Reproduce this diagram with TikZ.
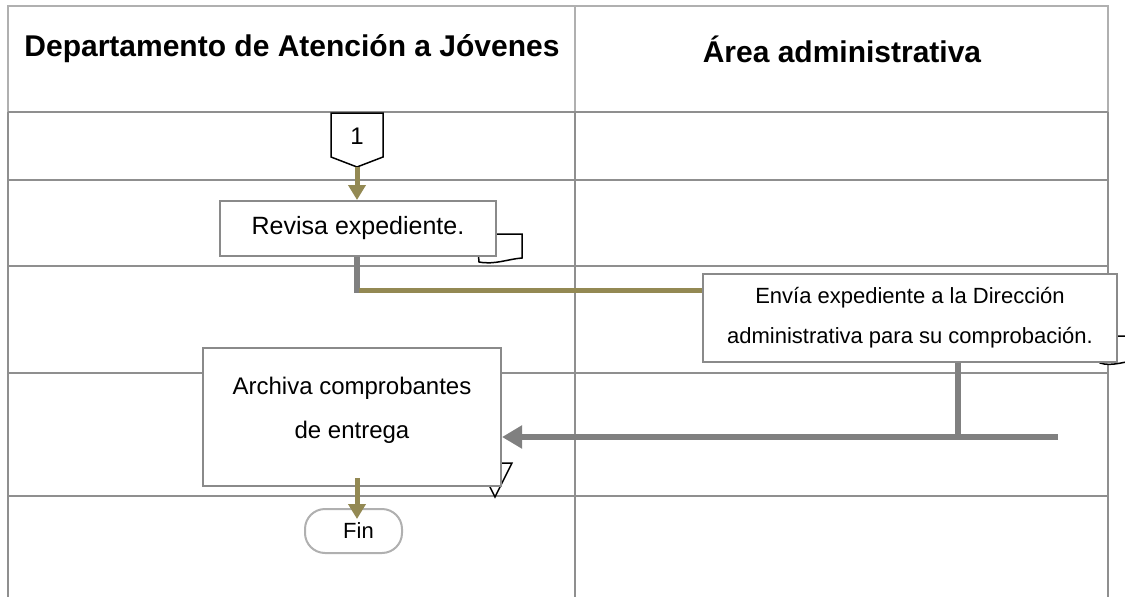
\documentclass[tikz,border=0pt]{standalone}
\usepackage{fontspec}
\setmainfont{Liberation Sans}
\usetikzlibrary{arrows.meta}
\definecolor{olivec}{HTML}{938953}
\definecolor{grayc}{HTML}{808080}
\definecolor{hdrline}{HTML}{B0B0B0}
\definecolor{rowline}{HTML}{8F8F8F}
\definecolor{boxline}{HTML}{8A8A8A}
\tikzset{
  hdrtext/.style={font=\fontsize{30}{34}\selectfont\bfseries, text=black},
  procbox/.style={draw=boxline, line width=2pt, fill=white, rectangle, inner sep=0pt, align=center},
  oliveconn/.style={draw=olivec, line width=5pt},
  grayconn/.style={draw=grayc, line width=6pt},
  olivearrow/.style={oliveconn, -{Triangle[width=17pt,length=15pt]}},
  grayarrow/.style={grayconn, -{Triangle[width=22pt,length=20pt]}},
  tableline/.style={draw=rowline, line width=2pt},
  thinsym/.style={draw=black, line width=1.5pt, fill=white},
}
\begin{document}
\begin{tikzpicture}[x=1pt,y=-1pt]
\useasboundingbox (0,0) rectangle (1125,597);
% table
\draw[draw=hdrline, line width=2pt] (8,597) -- (8,6) -- (1108,6) -- (1108,597);
\draw[draw=hdrline, line width=2pt] (575,6) -- (575,112);
\draw[tableline] (575,112) -- (575,597);
\draw[tableline] (8,112) -- (8,597);
\draw[tableline] (1108,112) -- (1108,597);
\foreach \yy in {112,180,266,373,496} \draw[tableline] (8,\yy) -- (1108,\yy);
% headers
\node[hdrtext] (h1) at (292,49) {Departamento de Atención a Jóvenes};
\node[hdrtext] (h2) at (842,49) {Área administrativa};
% off-page connector 1
\draw[thinsym] (331,113) -- (383,113) -- (383,157) -- (357,167) -- (331,157) -- cycle;
\node[font=\fontsize{24}{28}\selectfont] (one) at (357,136) {1};
\coordinate (c1tip) at (357,167);
% document symbol behind Revisa
\draw[thinsym] (490,234) -- (522,234) -- (522,258) .. controls (508,259) and (495,265) .. (479,262) -- (478,250);
\node[procbox, minimum width=276pt, minimum height=55pt, font=\fontsize{25}{30}\selectfont] (revisa) at (358,228.5) {Revisa expediente.};
\draw[olivearrow] (c1tip) -- (revisa.north -| c1tip);
% envia
\begin{scope}
\clip (0,0) rectangle (1125,597);
\draw[thinsym] (1100,336) -- (1140,336) -- (1140,360) .. controls (1125,361) and (1112,367) .. (1100,363) -- cycle;
\end{scope}
\node[procbox, minimum width=414pt, minimum height=88pt, font=\fontsize{22}{40}\selectfont] (envia) at (910,318) {Envía expediente a la Dirección\\administrativa para su comprobación.};
\coordinate (j1) at (357,293);
\draw[grayconn] (revisa.south -| j1) -- (j1);
\coordinate (j2) at (359,290);
\draw[oliveconn] (j2) -- (envia.west |- j2);
% archive triangle behind Archiva
\draw[thinsym] (478,463) -- (512,463) -- (495,497) -- cycle;
\node[procbox, minimum width=298pt, minimum height=138pt] (archiva) at (352,417) {};
\node[font=\fontsize{24}{44}\selectfont, align=center] (archivatxt) at (352,410) {Archiva comprobantes\\de entrega};
% gray return arrow
\coordinate (j3) at (958,437);
\coordinate (rend) at (1058,437);
\draw[grayconn] (envia.south -| j3) -- ([yshift=3pt]j3);
\draw[grayarrow] (rend) -- (archiva.east |- rend);
% fin
\node[draw=hdrline, line width=2pt, fill=white, rounded corners=20pt, minimum width=97pt, minimum height=44pt, inner sep=0pt] (fin) at (353.5,531) {};
\node[font=\fontsize{22}{26}\selectfont] (fintxt) at (358.5,531) {Fin};
\coordinate (a3) at (357,478);
\draw[olivearrow] (a3) -- ([yshift=-11pt]fin.north -| a3);
\end{tikzpicture}
\end{document}
